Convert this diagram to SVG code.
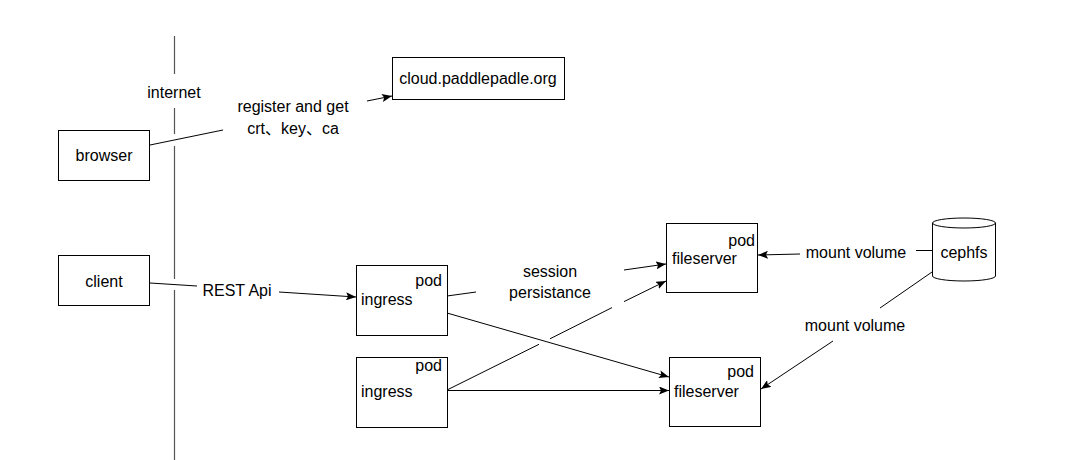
<svg xmlns="http://www.w3.org/2000/svg" width="1074" height="460" viewBox="0 0 1074 460">
  <style>
    .box { fill: #ffffff; stroke: #000000; stroke-width: 1; }
    .edge { fill: none; stroke: #000000; stroke-width: 1; }
    .border { fill: none; stroke: #555555; stroke-width: 1.2; }
    text { font-family: "Liberation Sans", Helvetica, Arial, "Noto Sans CJK SC", sans-serif; font-size: 16px; fill: #000000; }
    .mid { text-anchor: middle; }
    .end { text-anchor: end; }
  </style>
  <defs>
    <marker id="arrow" markerUnits="userSpaceOnUse" markerWidth="11" markerHeight="8" refX="10" refY="4" orient="auto">
      <path d="M0,0 L10,4 L0,8 L2,4 Z" fill="#000000"/>
    </marker>
  </defs>
  <rect width="1074" height="460" fill="#ffffff"/>

  <g id="internet-border">
    <path class="border" d="M174.5,36 V74 M174.5,108 V134 M174.5,146 V279 M174.5,290 V460"/>
    <text class="mid" x="174" y="98">internet</text>
  </g>

  <g id="connectors">
    <path class="edge" d="M150,145 L223,130"/>
    <path class="edge" d="M367,101 L392,96" marker-end="url(#arrow)"/>
    <text class="mid" x="293" y="112">register and get</text>
    <text class="mid" x="293" y="134">crt、key、ca</text>

    <path class="edge" d="M150,283 L197,286"/>
    <path class="edge" d="M279,292 L356,297" marker-end="url(#arrow)"/>
    <text class="mid" x="237" y="296">REST Api</text>

    <path class="edge" d="M447,296 L476,292"/>
    <path class="edge" d="M624,270 L666,264" marker-end="url(#arrow)"/>
    <text class="mid" x="550" y="277">session</text>
    <text class="mid" x="550" y="298">persistance</text>

    <path class="edge" d="M447,313 L669,377" marker-end="url(#arrow)"/>

    <path class="edge" d="M447,390 L539,344.3"/>
    <path class="edge" d="M550,338.8 L612,307.6"/>
    <path class="edge" d="M624,301.6 L666,281" marker-end="url(#arrow)"/>

    <path class="edge" d="M447,390.5 L669,390.5" marker-end="url(#arrow)"/>

    <path class="edge" d="M932,250.5 L916,250.5"/>
    <path class="edge" d="M800,254 L758,255" marker-end="url(#arrow)"/>
    <text class="mid" x="856" y="258">mount volume</text>

    <path class="edge" d="M932,272 L880,308"/>
    <path class="edge" d="M833,341 L761,389" marker-end="url(#arrow)"/>
    <text class="mid" x="855" y="331">mount volume</text>
  </g>

  <g id="browser">
    <rect class="box" x="58.5" y="130.5" width="91" height="50"/>
    <text class="mid" x="104" y="161">browser</text>
  </g>

  <g id="cloud">
    <rect class="box" x="392.5" y="57.5" width="172" height="42"/>
    <text class="mid" x="478" y="84">cloud.paddlepadle.org</text>
  </g>

  <g id="client">
    <rect class="box" x="58.5" y="255.5" width="91" height="50"/>
    <text class="mid" x="104" y="287">client</text>
  </g>

  <g id="ingress1">
    <rect class="box" x="356.5" y="265.5" width="91" height="70"/>
    <text class="end" x="442" y="286">pod</text>
    <text x="361" y="305">ingress</text>
  </g>

  <g id="ingress2">
    <rect class="box" x="356.5" y="357.5" width="91" height="70"/>
    <text class="end" x="442" y="371">pod</text>
    <text x="361" y="397">ingress</text>
  </g>

  <g id="fileserver1">
    <rect class="box" x="666.5" y="223.5" width="91" height="69"/>
    <text class="end" x="755" y="246">pod</text>
    <text x="672" y="264">fileserver</text>
  </g>

  <g id="fileserver2">
    <rect class="box" x="669.5" y="357.5" width="91" height="69"/>
    <text class="end" x="754" y="377">pod</text>
    <text x="674" y="397">fileserver</text>
  </g>

  <g id="cephfs">
    <path class="box" d="M932.5,223 A31.5,5 0 0 1 995.5,223 L995.5,276 A31.5,5 0 0 1 932.5,276 Z"/>
    <path class="edge" d="M932.5,223 A31.5,5 0 0 0 995.5,223"/>
    <text class="mid" x="964" y="258">cephfs</text>
  </g>
</svg>
